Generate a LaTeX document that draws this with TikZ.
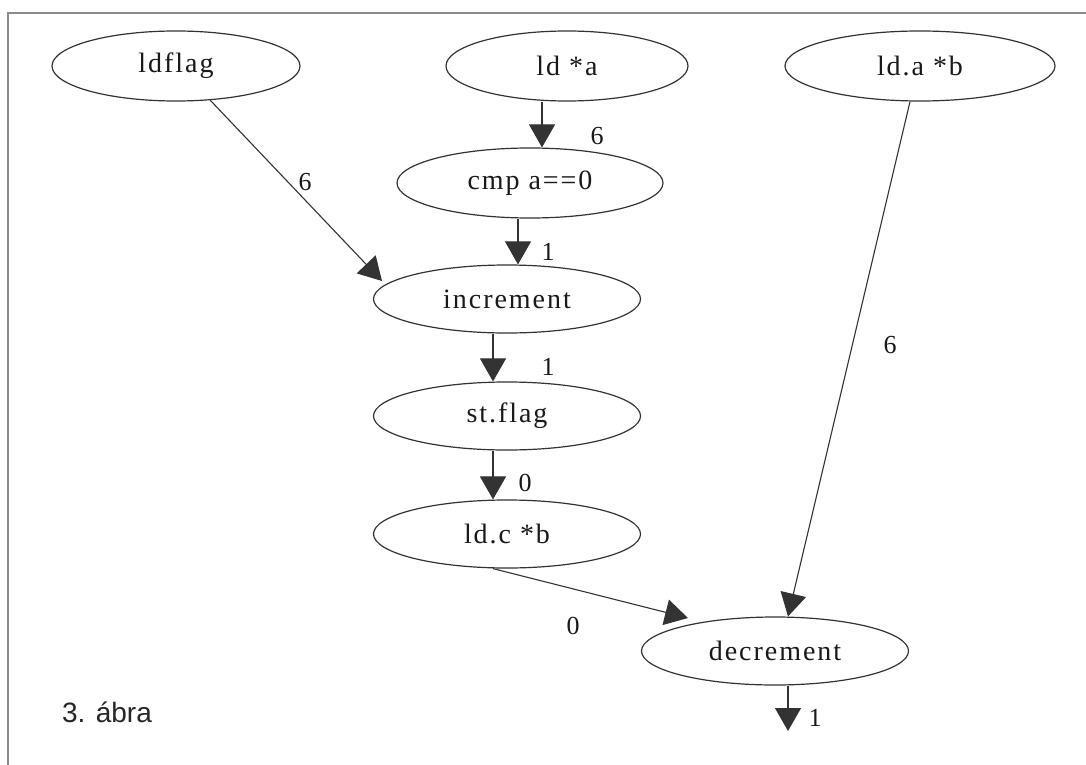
\documentclass[tikz,border=0pt]{standalone}
\usepackage{fontspec}
\setmainfont{Liberation Serif}[LetterSpace=7]
\newfontfamily\capfont{Liberation Sans}
\usetikzlibrary{shapes.geometric,arrows.meta}
\begin{document}
\begin{tikzpicture}[x=1pt,y=-1pt,
  op/.style={ellipse, draw=black!80, line width=1.2pt, inner sep=0pt, text=black!90,
    font=\fontsize{28}{32}\selectfont, minimum width=267pt, minimum height=68pt},
  flow/.style={draw=black!80, line width=1.1pt, -{Triangle[length=23pt,width=26pt]}},
  lbl/.style={font=\fontsize{26}{30}\selectfont, inner sep=0pt, text=black!90},
  frame/.style={draw=black!45, line width=1.6pt}]
\useasboundingbox (0,0) rectangle (1086,765);
\fill[white] (0,0) rectangle (1086,765);
\draw[frame] (8,765) -- (8,13) -- (1086,13);

\node[op, minimum width=248pt, minimum height=70pt] (ldflag) at (176,66) {ldflag};
\node[op, minimum width=242pt, minimum height=70pt] (ldstar) at (567,66) {ld *a};
\node[op, minimum width=270pt, minimum height=70pt] (ldab) at (920,66) {ld.a *b};
\node[op, minimum width=266pt, minimum height=70pt] (cmp) at (530,183) {cmp a==0};
\node[op] (inc) at (507,299) {increment};
\node[op] (st) at (507,416) {st.flag};
\node[op] (ldc) at (507,534) {ld.c *b};
\node[op] (dec) at (775,651) {decrement};
\coordinate (out) at (788,731);

\draw[flow] ([xshift=-25pt]ldstar.south) -- ([xshift=12pt]cmp.north);
\draw[flow] ([xshift=-12pt]cmp.south) -- ([xshift=11pt]inc.north);
\draw[flow] (ldflag.-45) -- ([xshift=-125pt,yshift=18pt]inc.center);
\draw[flow] ([xshift=-14pt]inc.south) -- ([xshift=-14pt]st.north);
\draw[flow] ([xshift=-14pt]st.south) -- ([xshift=-14pt]ldc.north);
\draw[flow] ([xshift=-14pt]ldc.south) -- ([xshift=-87pt,yshift=33pt]dec.center);
\draw[flow] ([xshift=-10pt]ldab.south) -- ([xshift=13pt]dec.north);
\draw[flow] ([xshift=13pt]dec.south) -- (out);

\node[lbl] (l1) at (597,136) {6};
\node[lbl] (l2) at (548,252) {1};
\node[lbl] (l3) at (305,182) {6};
\node[lbl] (l4) at (548,367) {1};
\node[lbl] (l5) at (525,483) {0};
\node[lbl] (l6) at (573,626) {0};
\node[lbl] (l7) at (890,345) {6};
\node[lbl] (l8) at (815,718) {1};

\node[font=\capfont\fontsize{28}{32}\selectfont, inner sep=0pt, text=black!85] (cap) at (107,712) {3. ábra};
\end{tikzpicture}
\end{document}
